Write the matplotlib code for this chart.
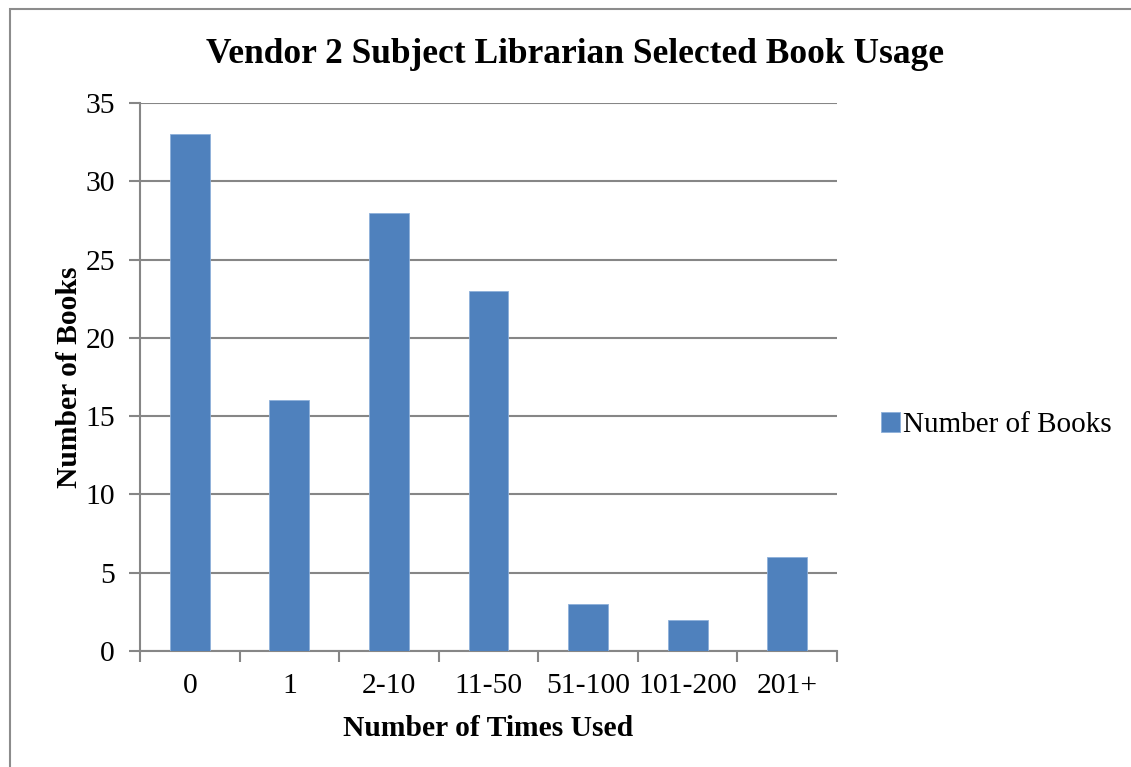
import matplotlib.pyplot as plt
from matplotlib.patches import Rectangle

# data
categories = ["0", "1", "2-10", "11-50", "51-100", "101-200", "201+"]
books = [33, 16, 28, 23, 3, 2, 6]
series_name = "Number of Books"

plt.rcParams['font.family'] = ['Liberation Serif', 'DejaVu Serif']

fig = plt.figure(figsize=(11.31, 7.67), dpi=100)
ax = fig.add_axes([140/1131, 1-651/767, (837-140)/1131, (651-103)/767])

bar_color = '#4F81BD'
grid_color = '#868686'

x = list(range(len(categories)))
ax.bar(x, books, width=0.4, color=bar_color, edgecolor='#8DB0DA', linewidth=0.6,
       label=series_name, zorder=3)

ax.set_xlim(-0.5, len(categories) - 0.5)
ax.set_ylim(0, 35)
ax.set_yticks(range(0, 36, 5))
ax.yaxis.grid(True, color=grid_color, linewidth=1.5, zorder=0)

ax.set_xticks([i - 0.5 for i in range(len(categories) + 1)])
ax.set_xticklabels([])
ax.set_xticks(x, minor=True)
ax.set_xticklabels(categories, minor=True)
ax.tick_params(axis='x', which='major', direction='out', length=8, width=1.5,
               color=grid_color)
ax.tick_params(axis='x', which='minor', length=0, labelsize=21.3, pad=16)
ax.tick_params(axis='y', direction='out', length=8, width=1.5, color=grid_color,
               labelsize=21.3, pad=10)

for side in ['top', 'right']:
    ax.spines[side].set_visible(False)
for side in ['left', 'bottom']:
    ax.spines[side].set_color(grid_color)
    ax.spines[side].set_linewidth(1.5)

fig.text(575/1131, 1 - 63/767, "Vendor 2 Subject Librarian Selected Book Usage",
         fontsize=25.5, fontweight='bold', ha='center', va='baseline')
ax.set_xlabel("Number of Times Used", fontsize=21.3, fontweight='bold', labelpad=11)
ax.set_ylabel("Number of Books", fontsize=21.3, fontweight='bold', labelpad=2)

ax.legend(loc='center left', bbox_to_anchor=(1.046, 0.412), frameon=False,
          fontsize=21, handlelength=0.65, handleheight=0.65, handletextpad=0.1,
          borderaxespad=0)

# chart border
fig.patches.append(Rectangle((10/1131, -0.1), 1.2, 1.1 - 9/767,
                             transform=fig.transFigure, fill=False,
                             edgecolor='#8C8C8C', linewidth=1.5))

fig.savefig("out.png", dpi=100)
